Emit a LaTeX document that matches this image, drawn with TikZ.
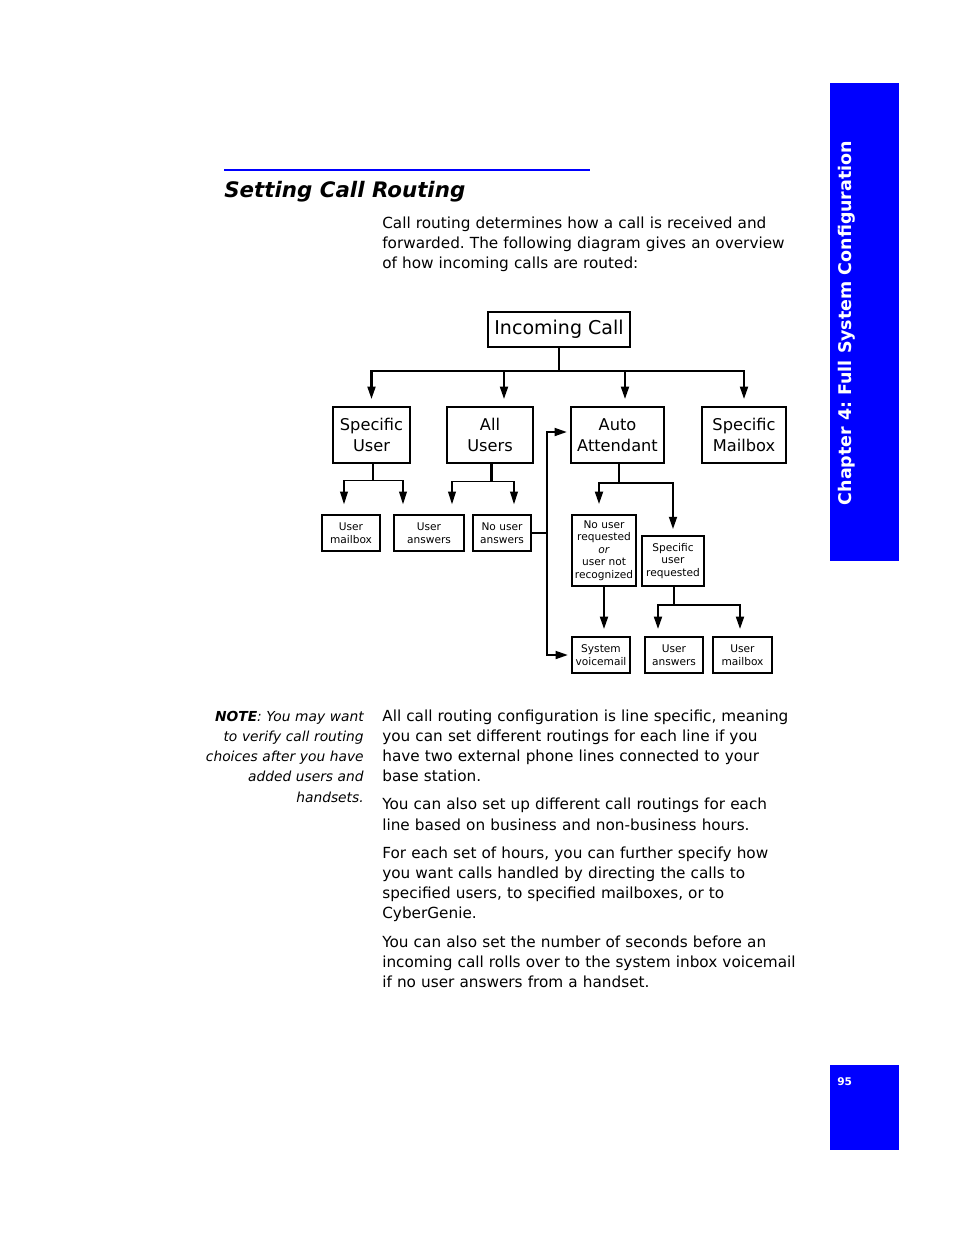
\documentclass[tikz,border=0pt]{standalone}
\usepackage{fontspec}
\setmainfont{DejaVu Sans}
\usetikzlibrary{positioning, arrows.meta, calc}
\definecolor{pageblue}{HTML}{0000FF}
\newcommand\pxu{0.6415pt}
\frenchspacing

\tikzset{
  box/.style={draw, line width=1.1pt, inner sep=0pt, align=center},
  bigbox/.style={box, font=\fontsize{10.4}{13.5}\selectfont},
  smallbox/.style={box, font=\fontsize{6.8}{8}\selectfont},
  boxsize/.style 2 args={minimum width=#1*\pxu, minimum height=#2*\pxu},
  thn/.style={line width=0.7pt},
  thk/.style={line width=1.5pt},
  arr/.style={-{Triangle[length=8pt,width=5pt]}},
  para/.style={inner sep=0pt, font=\fontsize{9.8}{13}\selectfont},
}

\begin{document}
\begin{tikzpicture}[x=\pxu, y=-\pxu]
  \useasboundingbox (0,0) rectangle (954,1235);

  % heading and intro
  \draw[pageblue, line width=1.3pt] (224,170) -- (590,170);
  \node[anchor=base west, inner sep=0pt, font=\fontsize{13.7}{16}\selectfont\bfseries\itshape] (title) at (224,197) {Setting Call Routing};
  \node[para, anchor=base west, text width=290pt, align=left] (intro) at (382,228) {Call routing determines how a call is received and\\
    forwarded. The following diagram gives an overview\\
    of how incoming calls are routed:};

  % chapter tab and page number
  \fill[pageblue] (830,83) rectangle (899,561);
  \node[rotate=90, text=white, font=\fontsize{11.2}{12}\selectfont\bfseries] (chap) at (847,323) {Chapter 4: Full System Configuration};
  \fill[pageblue] (830,1065) rectangle (899,1150);
  \node[anchor=base west, inner sep=0pt, text=white, font=\fontsize{6.8}{8}\selectfont\bfseries] (pnum) at (837,1085) {95};

  % routing boxes
  \node[box, boxsize={142}{35}, font=\fontsize{12.2}{14}\selectfont] (inc) at (559,329.5) {Incoming Call};
  \node[bigbox, boxsize={77}{56}] (su) at (371.5,435) {Specific\\User};
  \node[bigbox, boxsize={86}{56}] (allu) at (490,435) {All\\Users};
  \node[bigbox, boxsize={93}{56}] (auto) at (617.5,435) {Auto\\Attendant};
  \node[bigbox, boxsize={84}{56}] (smb) at (744,435) {Specific\\Mailbox};

  \node[smallbox, boxsize={58}{36}] (umb1) at (351,533) {User\\mailbox};
  \node[smallbox, boxsize={70}{36}] (uans1) at (429,533) {User\\answers};
  \node[smallbox, boxsize={58}{36}] (nua) at (502,533) {No user\\answers};
  \node[smallbox, boxsize={64}{71}] (nur) at (604,550.5) {No user\\requested\\\textit{or}\\user not\\recognized};
  \node[smallbox, boxsize={62}{50}] (sur) at (673,561) {Specific\\user\\requested};
  \node[smallbox, boxsize={58}{36}] (svm) at (601,655) {System\\voicemail};
  \node[smallbox, boxsize={58}{36}] (uans2) at (674,655) {User\\answers};
  \node[smallbox, boxsize={59}{36}] (umb2) at (742.5,655) {User\\mailbox};

  % incoming call fan-out
  \draw[thk] (inc.south) -- ++(0,23) coordinate (jinc);
  \draw[thk, arr, shorten >=4.5pt] (jinc) -| (su.north);
  \draw[thk, arr, shorten >=4.5pt] (jinc) -| ($(allu.north)+(14,0)$);
  \draw[thk, arr, shorten >=4.5pt] (jinc) -| ($(auto.north)+(7.5,0)$);
  \draw[thk, arr, shorten >=4.5pt] (jinc) -| (smb.north);

  % specific user / all users
  \draw[thn] ($(su.south)+(1.5,0)$) -- ++(0,17) coordinate (jsu);
  \draw[thn, arr, shorten >=6.4pt] (jsu) -| ($(umb1.north)+(-7,0)$);
  \draw[thn, arr, shorten >=6.4pt] (jsu) -| ($(uans1.north)+(-26,0)$);
  \draw[thk] ($(allu.south)+(1.5,0)$) -- ++(0,18) coordinate (jall);
  \draw[thn, arr, shorten >=6.4pt] (jall) -| ($(uans1.north)+(23,0)$);
  \draw[thn, arr, shorten >=6.4pt] (jall) -| ($(nua.north)+(12,0)$);

  % no answer goes back round
  \draw[thk] (nua.east) -- ++(15,0) coordinate (jnua);
  \draw[thk, arr, shorten >=2pt] (jnua) |- ($(auto.west)+(0,-3)$);
  \draw[thk, arr, shorten >=2pt] (jnua) |- (svm.west);

  % auto attendant
  \draw[thk] ($(auto.south)+(1.5,0)$) -- ++(0,19) coordinate (jaut);
  \draw[thk, arr, shorten >=6.4pt] (jaut) -| ($(nur.north)+(-5,0)$);
  \draw[thk, arr, shorten >=3.8pt] (jaut) -| (sur.north);
  \draw[thk, arr, shorten >=4.5pt] (nur.south) -- (nur.south |- svm.north);
  \draw[thk] ($(sur.south)+(1,0)$) -- ++(0,18) coordinate (jsur);
  \draw[thk, arr, shorten >=4.5pt] (jsur) -| ($(uans2.north)+(-16,0)$);
  \draw[thk, arr, shorten >=4.5pt] (jsur) -| ($(umb2.north)+(-2.5,0)$);

  % note and body text
  \node[anchor=base east, inner sep=0pt, text width=110pt, align=right, font=\fontsize{8.85}{13}\selectfont\itshape] (note) at (364,721) {\textbf{NOTE}: You may want\\
    to verify call routing\\
    choices after you have\\
    added users and\\
    handsets.};
  \node[para, anchor=base west, text width=290pt, align=left] (body) at (382,721) {All call routing configuration is line specific, meaning\\
    you can set different routings for each line if you\\
    have two external phone lines connected to your\\
    base station.\\[5pt]
    You can also set up different call routings for each\\
    line based on business and non-business hours.\\[5pt]
    For each set of hours, you can further specify how\\
    you want calls handled by directing the calls to\\
    specified users, to specified mailboxes, or to\\
    CyberGenie.\\[5pt]
    You can also set the number of seconds before an\\
    incoming call rolls over to the system inbox voicemail\\
    if no user answers from a handset.};
\end{tikzpicture}
\end{document}
